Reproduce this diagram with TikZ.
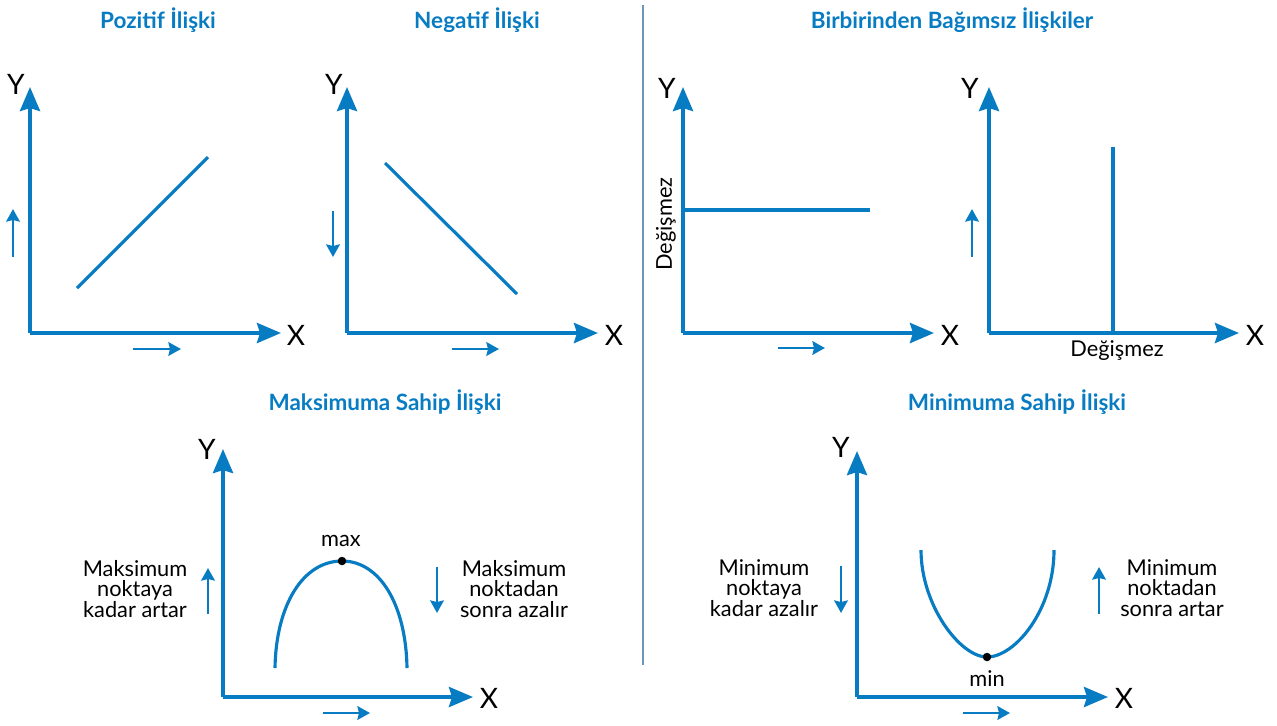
\documentclass[tikz,border=0pt]{standalone}
\usepackage{fontspec}
\setmainfont{Lato}
\usetikzlibrary{arrows.meta}
\definecolor{cblue}{RGB}{8,124,194}
\definecolor{cdiv}{RGB}{110,150,185}
\tikzset{
  axis/.style={draw=cblue, line width=2.3pt, -{Stealth[length=0.48cm,width=0.4cm,inset=0.06cm]}},
  curve/.style={draw=cblue, line width=1.8pt},
  small/.style={draw=cblue, line width=1.6pt, -{Stealth[length=0.25cm,width=0.27cm,inset=0.03cm]}},
  axlab/.style={font=\fontsize{16}{18}\selectfont, text=black, inner sep=0pt},
  ttl/.style={font=\fontsize{12.8}{14}\selectfont\bfseries, text=cblue, inner sep=0pt},
  txt/.style={font=\fontsize{12.4}{11.8}\selectfont, text=black, align=center, inner sep=0pt},
  dot/.style={circle, fill=black, inner sep=0pt, minimum size=0.17cm}
}
\begin{document}
\begin{tikzpicture}[x=0.02cm,y=-0.02cm]
\useasboundingbox (0,0) rectangle (1277,725);
% divider
\coordinate (d1) at (643,5); \coordinate (d2) at (643,665);
\draw[cdiv, line width=0.8pt] (d1) -- (d2);
% titles
\node[ttl] (t1) at (158,20) {Pozitif İlişki};
\node[ttl] (t2) at (477,20) {Negatif İlişki};
\node[ttl] (t3) at (952,20) {Birbirinden Bağımsız İlişkiler};
\node[ttl] (t4) at (385,402) {Maksimuma Sahip İlişki};
\node[ttl] (t5) at (1017,402) {Minimuma Sahip İlişki};

% ---- panel 1
\coordinate (o1) at (30,333); \coordinate (y1) at (30,87); \coordinate (x1) at (281,333);
\draw[axis] (o1) -- (y1); \draw[axis] (o1) -- (x1);
\node[axlab] (Y1) at (16,84) {Y}; \node[axlab] (X1) at (296,335) {X};
\coordinate (a1) at (77,288); \coordinate (b1) at (208,157);
\draw[curve] (a1) -- (b1);
\coordinate (u1a) at (13,257); \coordinate (u1b) at (13,209);
\draw[small] (u1a) -- (u1b);
\coordinate (r1a) at (133,349); \coordinate (r1b) at (181,349);
\draw[small] (r1a) -- (r1b);

% ---- panel 2
\coordinate (o2) at (347,333); \coordinate (y2) at (347,87); \coordinate (x2) at (598,333);
\draw[axis] (o2) -- (y2); \draw[axis] (o2) -- (x2);
\node[axlab] (Y2) at (334,84) {Y}; \node[axlab] (X2) at (614,335) {X};
\coordinate (a2) at (385,163); \coordinate (b2) at (517,294);
\draw[curve] (a2) -- (b2);
\coordinate (u2a) at (333,211); \coordinate (u2b) at (333,257);
\draw[small] (u2a) -- (u2b);
\coordinate (r2a) at (452,349); \coordinate (r2b) at (499,349);
\draw[small] (r2a) -- (r2b);

% ---- panel 3
\coordinate (o3) at (683,333); \coordinate (y3) at (683,87); \coordinate (x3) at (934,333);
\draw[axis] (o3) -- (y3); \draw[axis] (o3) -- (x3);
\node[axlab] (Y3) at (667,88) {Y}; \node[axlab] (X3) at (950,335) {X};
\coordinate (a3) at (683,210); \coordinate (b3) at (870,210);
\draw[curve] (a3) -- (b3);
\node[txt, rotate=90] (d3) at (666,224) {Değişmez};
\coordinate (r3a) at (778,348); \coordinate (r3b) at (825,348);
\draw[small] (r3a) -- (r3b);

% ---- panel 4
\coordinate (o4) at (989,333); \coordinate (y4) at (989,87); \coordinate (x4) at (1239,333);
\draw[axis] (o4) -- (y4); \draw[axis] (o4) -- (x4);
\node[axlab] (Y4) at (970,88) {Y}; \node[axlab] (X4) at (1255,335) {X};
\coordinate (a4) at (1113,147); \coordinate (b4) at (1113,333);
\draw[curve] (a4) -- (b4);
\node[txt] (d4) at (1117,351) {Değişmez};
\coordinate (u4a) at (972,257); \coordinate (u4b) at (972,209);
\draw[small] (u4a) -- (u4b);

% ---- panel 5 (max)
\coordinate (o5) at (223,697); \coordinate (y5) at (223,449); \coordinate (x5) at (473,697);
\draw[axis] (o5) -- (y5); \draw[axis] (o5) -- (x5);
\node[axlab] (Y5) at (207,449) {Y}; \node[axlab] (X5) at (489,698) {X};
\coordinate (p5a) at (275,668); \coordinate (p5m) at (342,561); \coordinate (p5b) at (407,668);
\draw[curve] (p5a) .. controls (276,605) and (303,561) .. (p5m) .. controls (380,561) and (406,605) .. (p5b);
\node[dot] (m5) at (p5m) {};
\node[txt] (max) at (341,541) {max};
\node[txt] (l5) at (135,589) {Maksimum\\noktaya\\kadar artar};
\node[txt] (r5) at (514,589) {Maksimum\\noktadan\\sonra azalır};
\coordinate (u5a) at (208,614); \coordinate (u5b) at (208,568);
\draw[small] (u5a) -- (u5b);
\coordinate (v5a) at (437,567); \coordinate (v5b) at (437,613);
\draw[small] (v5a) -- (v5b);
\coordinate (r5a) at (323,713); \coordinate (r5b) at (370,713);
\draw[small] (r5a) -- (r5b);

% ---- panel 6 (min)
\coordinate (o6) at (857,697); \coordinate (y6) at (857,451); \coordinate (x6) at (1108,697);
\draw[axis] (o6) -- (y6); \draw[axis] (o6) -- (x6);
\node[axlab] (Y6) at (841,447) {Y}; \node[axlab] (X6) at (1124,698) {X};
\coordinate (p6a) at (921,550); \coordinate (p6m) at (987,657); \coordinate (p6b) at (1054,550);
\draw[curve] (p6a) .. controls (921,605) and (960,657) .. (p6m) .. controls (1015,657) and (1054,610) .. (p6b);
\node[dot] (m6) at (p6m) {};
\node[txt] (min) at (987,679) {min};
\node[txt] (l6) at (764,588) {Minimum\\noktaya\\kadar azalır};
\node[txt] (r6) at (1172,588) {Minimum\\noktadan\\sonra artar};
\coordinate (v6a) at (841,566); \coordinate (v6b) at (841,613);
\draw[small] (v6a) -- (v6b);
\coordinate (u6a) at (1099,614); \coordinate (u6b) at (1099,567);
\draw[small] (u6a) -- (u6b);
\coordinate (r6a) at (963,713); \coordinate (r6b) at (1010,713);
\draw[small] (r6a) -- (r6b);
\end{tikzpicture}
\end{document}
